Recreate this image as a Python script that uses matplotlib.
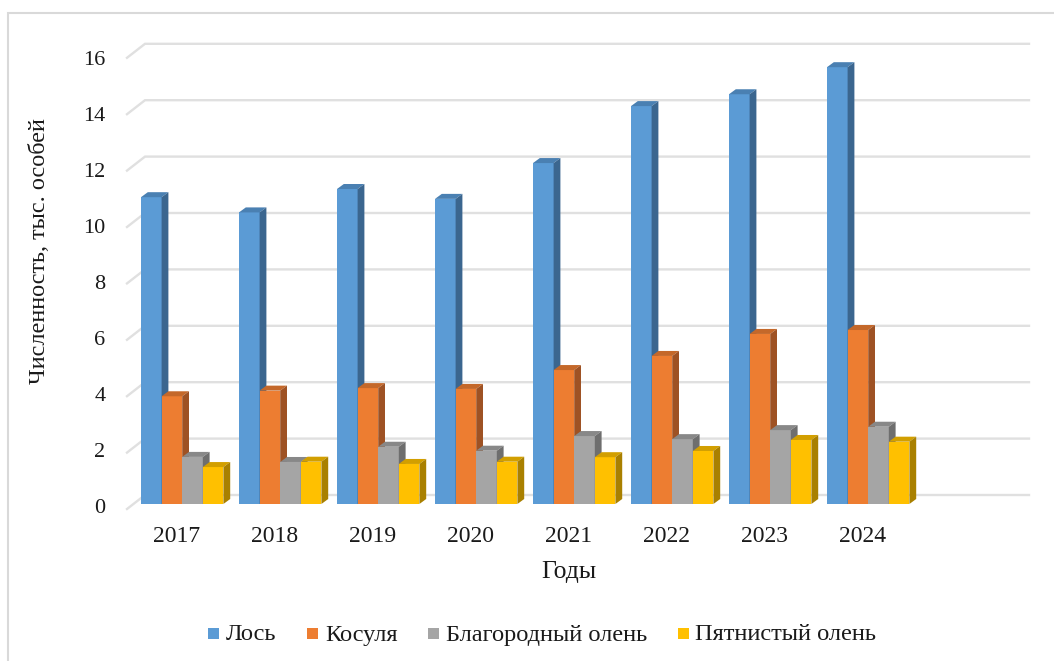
import matplotlib
matplotlib.use('Agg')
import matplotlib.pyplot as plt
from matplotlib.patches import Polygon, Rectangle

plt.rcParams['font.family'] = ['Liberation Serif', 'DejaVu Serif']

years = ['2017', '2018', '2019', '2020', '2021', '2022', '2023', '2024']
los = [10.88, 10.34, 11.17, 10.82, 12.09, 14.11, 14.53, 15.49]
kosulya = [3.82, 4.02, 4.11, 4.08, 4.75, 5.25, 6.03, 6.17]
blagorodny = [1.67, 1.49, 2.03, 1.89, 2.41, 2.3, 2.62, 2.74]
pyatnisty = [1.31, 1.5, 1.42, 1.5, 1.66, 1.88, 2.27, 2.21]
y_ticks = [0, 2, 4, 6, 8, 10, 12, 14, 16]

names = ['Лось', 'Косуля', 'Благородный олень', 'Пятнистый олень']
series = [los, kosulya, blagorodny, pyatnisty]
front = ['#5b9bd5', '#ed7d31', '#a5a5a5', '#ffc000']
top = ['#4a80b2', '#c4682a', '#888888', '#d29f00']
side = ['#3b668f', '#9e5224', '#6e6e6e', '#a98000']

W, H = 1054, 661
PX_CAT = 98.0
PX_UNIT = 28.2
BAR_W = 20.6 / PX_CAT
DX = 6.8 / PX_CAT
DY = 5.0 / PX_UNIT
WALL_DX = 18.0 / PX_CAT
WALL_DY = 14.0 / PX_UNIT
TEXT = '#1a1a1a'

fig = plt.figure(figsize=(W / 100, H / 100), dpi=100)
x0_px, y0_px = 182.2, 504.0
ax = fig.add_axes([0, 0, 1, 1])
ax.set_xlim(-x0_px / PX_CAT, (W - x0_px) / PX_CAT)
ax.set_ylim((y0_px - H) / PX_UNIT, y0_px / PX_UNIT)
ax.axis('off')

# outer frame, only left and top are visible in the picture
fig.add_artist(plt.Line2D([8.3 / W, 8.3 / W, 1], [0, 1 - 13.3 / H, 1 - 13.3 / H],
                          transform=fig.transFigure, color='#d9d9d9', lw=1.5,
                          solid_joinstyle='miter'))

# gridlines on the back wall and side wall
wall_left = (127 - x0_px) / PX_CAT
wall_right = (1029 - x0_px) / PX_CAT
for t in y_ticks:
    yb = t + 9 / PX_UNIT
    ax.plot([wall_left, wall_left + WALL_DX, wall_right], [yb - WALL_DY, yb, yb],
            color='#e0e0e0', lw=1.7, solid_joinstyle='miter', zorder=1)
    # tick labels are spaced a bit tighter than the bars scale
    ax.text(-0.785, t * 28.0 / PX_UNIT - 0.17, str(t), ha='right', va='center',
            fontsize=16, color=TEXT)

for i in range(len(years)):
    for s in range(4):
        left = i + (s - 2) * BAR_W
        v = series[s][i]
        ax.bar(left, v, BAR_W, align='edge', color=front[s], lw=0, zorder=3 + i * 4 + s)
        r = left + BAR_W
        ax.add_patch(Polygon([(left, v), (r, v), (r + DX, v + DY), (left + DX, v + DY)],
                             color=top[s], lw=0, zorder=3 + i * 4 + s))
        ax.add_patch(Polygon([(r, 0), (r + DX, DY), (r + DX, v + DY), (r, v)],
                             color=side[s], lw=0, zorder=3 + i * 4 + s))
    ax.text(i - 0.06, -1.17, years[i], ha='center', va='center', fontsize=17, color=TEXT)

ax.text(3.95, -2.42, 'Годы', ha='center', va='center', fontsize=18.5, color=TEXT)
ax.text(-1.452, 8.97, 'Численность, тыс. особей', ha='center', va='center', rotation=90,
        fontsize=17.5, color=TEXT)

# legend
leg_x = [208, 307, 428, 678]
txt_x = [226, 325, 446, 695]
for s in range(4):
    fig.add_artist(Rectangle((leg_x[s] / W, 1 - 639 / H), 11 / W, 11 / H, transform=fig.transFigure,
                             color=front[s], lw=0))
    fig.text(txt_x[s] / W, 1 - 635 / H, names[s], ha='left', va='center', fontsize=17.6, color=TEXT)

fig.savefig('out.png', dpi=100)
